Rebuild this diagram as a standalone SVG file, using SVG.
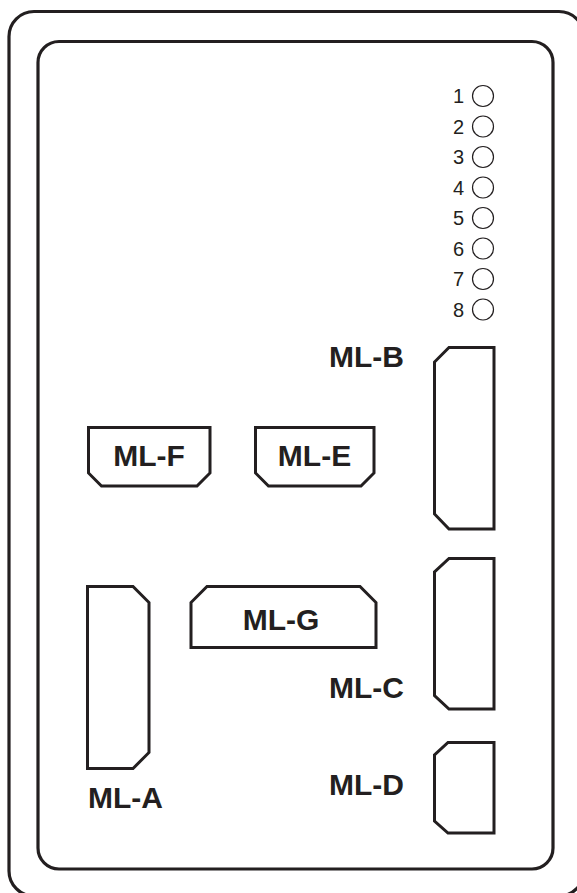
<svg xmlns="http://www.w3.org/2000/svg" width="577" height="893" viewBox="0 0 577 893">
<style>
.frame{fill:none;stroke:#231f20;stroke-width:3.2}
.conn{fill:none;stroke:#231f20;stroke-width:3;stroke-linejoin:miter}
.led{fill:none;stroke:#231f20;stroke-width:1.2}
.num{font-family:"Liberation Sans",Arial,sans-serif;font-size:20px;fill:#231f20;text-anchor:end}
.lbl{font-family:"Liberation Sans",Arial,sans-serif;font-size:30px;font-weight:bold;fill:#231f20}
</style>
<rect id="outer" class="frame" x="9" y="11.5" width="575" height="884.5" rx="25"/>
<rect id="inner" class="frame" x="38" y="41.5" width="515" height="827.5" rx="21"/>
<g id="leds">
<text class="num" x="464" y="103">1</text><circle class="led" cx="483" cy="96" r="10.5"/>
<text class="num" x="464" y="133.5">2</text><circle class="led" cx="483" cy="126.5" r="10.5"/>
<text class="num" x="464" y="164">3</text><circle class="led" cx="483" cy="157" r="10.5"/>
<text class="num" x="464" y="194.5">4</text><circle class="led" cx="483" cy="187.5" r="10.5"/>
<text class="num" x="464" y="225">5</text><circle class="led" cx="483" cy="218" r="10.5"/>
<text class="num" x="464" y="255.5">6</text><circle class="led" cx="483" cy="248.5" r="10.5"/>
<text class="num" x="464" y="286">7</text><circle class="led" cx="483" cy="279" r="10.5"/>
<text class="num" x="464" y="316.5">8</text><circle class="led" cx="483" cy="309.5" r="10.5"/>
</g>
<g id="ML-B">
<polygon class="conn" points="449,347.5 494,347.5 494,529 449,529 434.5,514 434.5,362"/>
<text class="lbl" x="404" y="367" text-anchor="end">ML-B</text>
</g>
<g id="ML-C">
<polygon class="conn" points="449,558.5 494,558.5 494,709 449,709 434.5,695.5 434.5,572"/>
<text class="lbl" x="404" y="698" text-anchor="end">ML-C</text>
</g>
<g id="ML-D">
<polygon class="conn" points="448,742.5 494,742.5 494,833 448,833 434.5,821 434.5,755"/>
<text class="lbl" x="404" y="795" text-anchor="end">ML-D</text>
</g>
<g id="ML-F">
<polygon class="conn" points="88.5,427.5 210,427.5 210,473 197,486 101.5,486 88.5,473"/>
<text class="lbl" x="149" y="466" text-anchor="middle">ML-F</text>
</g>
<g id="ML-E">
<polygon class="conn" points="255.5,427.5 374,427.5 374,473 361,486 268.5,486 255.5,473"/>
<text class="lbl" x="314.5" y="466" text-anchor="middle">ML-E</text>
</g>
<g id="ML-G">
<polygon class="conn" points="207,586.5 360,586.5 376,602.5 376,647.5 191,647.5 191,602.5"/>
<text class="lbl" x="281" y="630" text-anchor="middle">ML-G</text>
</g>
<g id="ML-A">
<polygon class="conn" points="87.5,586.5 133,586.5 149,602.5 149,752.5 133,768.5 87.5,768.5"/>
<text class="lbl" x="88" y="808">ML-A</text>
</g>
<g id="connectors"></g>
</svg>
